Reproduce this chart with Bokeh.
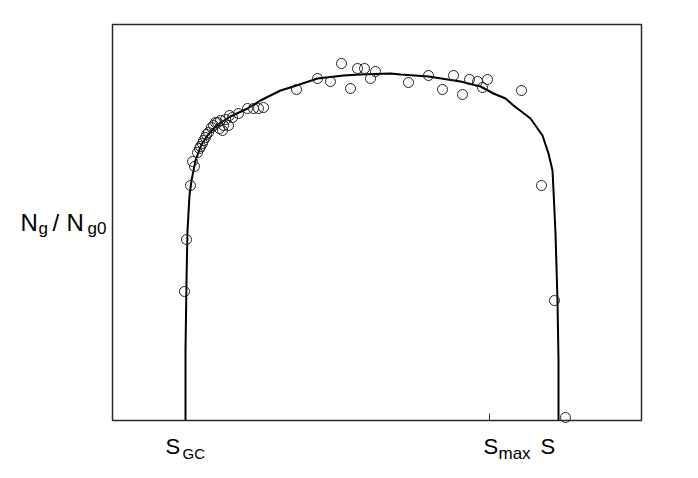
from bokeh.plotting import figure
from bokeh.models import Range1d, Label, BoxAnnotation
from bokeh.embed import file_html
from bokeh.resources import INLINE

# arbitrary units: S along x, Ng/Ng0 along y
curve_s = [73, 73, 74, 75, 77, 79, 83, 89, 95, 101, 110, 118, 135, 148, 158, 168, 181,
           205, 231, 248, 278, 288, 316, 348, 368, 381, 393, 401, 418, 430, 436, 440,
           441, 443, 445, 446, 446]
curve_n = [0, 70, 140, 190, 225, 240, 260, 276, 285, 292, 299, 304, 312, 320, 325, 330, 334,
           342, 345, 346, 347, 346, 344, 339, 334, 327, 322, 315, 302, 285, 267, 250,
           230, 187, 120, 60, 0]

pts_s = [184, 205, 218, 229, 238, 245, 252, 263, 258, 296, 316, 330, 341, 350, 357, 365,
         375, 370, 409, 429, 442, 453, 72, 74, 78,
         82, 80, 85, 87, 90, 91, 93, 96, 99, 101, 105, 108, 111, 116, 107, 110, 117, 126,
         135, 141, 146, 151, 88, 94, 103, 113, 120]
pts_n = [331, 342, 339, 357, 332, 352, 352, 349, 342, 338, 345, 331, 345, 326, 341, 339,
         341, 333, 330, 235, 120, 3, 129, 181, 235,
         254, 259, 268, 272, 277, 280, 283, 288, 293, 295, 298, 300, 295, 295, 292, 290, 305, 307,
         312, 312, 312, 313, 274, 286, 298, 301, 303]

s_gc = 73
s_max = 377
s_end = 446

# axis box limits (data units)
S_LO, S_HI = 0, 529
N_LO, N_HI = 0, 396

p = figure(frame_width=690, frame_height=470, output_backend="svg", toolbar_location=None,
           x_range=Range1d(S_LO - 112, S_HI + 49), y_range=Range1d(N_LO - 50, N_HI + 24),
           min_border=0)
p.grid.visible = False
p.xaxis.visible = False
p.yaxis.visible = False
p.outline_line_color = None
p.background_fill_color = "white"
p.border_fill_color = "white"

p.add_layout(BoxAnnotation(left=S_LO, right=S_HI, bottom=N_LO, top=N_HI,
                           fill_alpha=0, line_color="#2a2a2a", line_alpha=1.0,
                           line_width=1.5))
# tick at S_max (inward)
p.segment(x0=[s_max], y0=[N_LO], x1=[s_max], y1=[N_LO + 7], line_color="#333333", line_width=1)

p.line(curve_s, curve_n, line_color="black", line_width=2)
p.scatter(pts_s, pts_n, marker="circle", size=10, fill_color=None,
          line_color="#222222", line_width=1)

F = "Liberation Sans"

def lab(x, y, t, size):
    p.add_layout(Label(x=x, y=y, text=t, text_font=F, text_font_size=size,
                       text_color="black", text_baseline="alphabetic", text_align="left"))

# x labels
lab(s_gc - 20, -26, "S", "22px")
lab(s_gc - 3, -33, "GC", "15px")
lab(s_max - 6, -26, "S", "22px")
lab(s_max + 9, -33, "max", "17px")
lab(s_end - 18, -26, "S", "22px")
# y label
lab(-92, 198, "N", "24px")
lab(-74, 192, "g", "17px")
lab(-60, 198, "/", "24px")
lab(-46, 198, "N", "24px")
lab(-25, 192, "g0", "17px")

open("out.html", "w").write(file_html(p, INLINE))
